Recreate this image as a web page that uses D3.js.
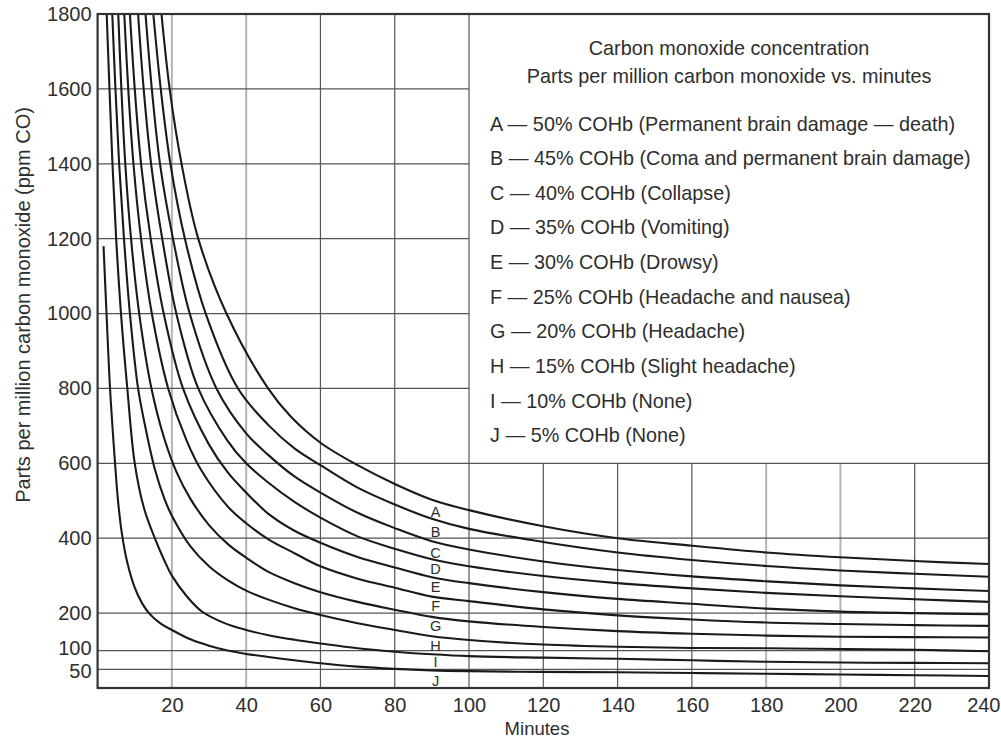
<!DOCTYPE html>
<html>
<head>
<meta charset="utf-8">
<script src="https://cdn.jsdelivr.net/npm/d3@7/dist/d3.min.js"></script>
<style>
  html, body { margin: 0; padding: 0; background: #fff; }
  svg { display: block; }
  text { font-family: "Liberation Sans", Arial, Helvetica, sans-serif; fill: #2e2e2e; }
</style>
</head>
<body>
<script>
// ---------- data ----------
const minuteTicks = [20, 40, 60, 80, 100, 120, 140, 160, 180, 200, 220, 240];
const ppmTicks = [50, 100, 200, 400, 600, 800, 1000, 1200, 1400, 1600, 1800];

const curveIds = ["A", "B", "C", "D", "E", "F", "G", "H", "I", "J"];
const coHbPercent = [50, 45, 40, 35, 30, 25, 20, 15, 10, 5];
const symptoms = [
  "Permanent brain damage \u2014 death",
  "Coma and permanent brain damage",
  "Collapse",
  "Vomiting",
  "Drowsy",
  "Headache and nausea",
  "Headache",
  "Slight headache",
  "None",
  "None"
];
// label positions (ppm) of the curve letters near 91 minutes
const labelMinute = 91;
const labelPpm = [470, 417, 361, 318, 270, 219, 166, 112, 69, 19];

// curves: [minutes, ppm CO]
const curveA = [[17.2,1800],[19.4,1600],[22.6,1400],[27.1,1200],[34.7,1000],[45.9,800],[52,725],[60,655],[70,595],[80,545],[90,503],[100,475],[120,432],[140,400],[160,380],[180,362],[200,349],[220,339],[240,331]];
const curveB = [[15.0,1800],[17.0,1600],[19.6,1400],[23.5,1200],[29.1,1000],[37.8,800],[46,702],[53,640],[60,595],[70,535],[80,490],[90,452],[100,425],[120,390],[140,362],[160,342],[180,326],[200,314],[220,305],[240,297]];
const curveC = [[12.9,1800],[14.6,1600],[16.8,1400],[20.3,1200],[24.8,1000],[32,800],[40,680],[46,622],[53,565],[60,522],[70,468],[80,427],[90,392],[100,370],[120,338],[140,315],[160,298],[180,285],[200,274],[220,266],[240,259]];
const curveD = [[10.9,1800],[12.4,1600],[14.4,1400],[17.4,1200],[21.2,1000],[27.1,800],[35,660],[40,600],[46,548],[53,497],[60,455],[70,405],[80,372],[90,344],[100,325],[120,299],[140,280],[160,266],[180,254],[200,245],[220,237],[240,230]];
const curveE = [[8.7,1800],[10.0,1600],[11.7,1400],[14.3,1200],[17.8,1000],[23,800],[30,650],[35.1,575],[40,522],[46,465],[53,420],[60,388],[70,350],[80,322],[90,296],[100,280],[120,256],[140,238],[160,225],[180,212],[200,204],[220,200],[240,197]];
const curveF = [[7.18,1800],[8.25,1600],[9.65,1400],[11.7,1200],[14.6,1000],[19,800],[24,660],[28,580],[35,485],[40,440],[46,397],[53,360],[60,325],[70,292],[80,268],[90,244],[100,232],[120,210],[140,194],[160,183],[180,175],[200,171],[220,168],[240,166]];
const curveG = [[5.56,1800],[6.4,1600],[7.45,1400],[9.0,1200],[11.2,1000],[14.5,800],[18,665],[21.2,578],[25,505],[30,435],[35,385],[40,348],[46,310],[53,280],[60,256],[70,230],[80,209],[90,190],[100,178],[120,163],[140,152],[160,145],[180,140],[200,137],[220,136],[240,135]];
const curveH = [[3.95,1800],[4.8,1600],[5.8,1400],[7.1,1200],[8.7,1000],[10.9,800],[13,690],[15.4,585],[18,505],[20,460],[25,378],[30,325],[35,288],[40,260],[46,236],[53,213],[60,195],[70,173],[80,155],[90,138],[100,128],[120,116],[140,110],[160,107],[180,106],[200,104],[220,102],[240,98]];
const curveI = [[2.45,1800],[3.2,1600],[4.0,1400],[5.0,1200],[6.3,1000],[8.0,800],[10,600],[12.5,480],[15.4,400],[18,340],[20,300],[24,245],[28,205],[34,174],[40,155],[46,141],[53,129],[60,119],[70,106],[80,97],[90,90],[100,85],[120,81],[140,78],[160,74],[180,70],[200,68],[220,67],[240,66]];
const curveJ = [[1.6,1180],[2.4,1000],[3.35,800],[4.7,600],[5.5,500],[6.5,415],[8,335],[10,268],[12,226],[14,198],[17,172],[20,155],[25,130],[30,113],[35,100],[40,91],[46,83],[53,74],[60,66],[70,57],[80,51],[90,47],[100,45],[120,43],[140,42],[160,40],[180,38],[200,36],[220,34],[240,32]];
const curves = [curveA, curveB, curveC, curveD, curveE, curveF, curveG, curveH, curveI, curveJ];

// ---------- layout ----------
const W = 1001, H = 741;
const plotLeft = 97.6, plotRight = 989, plotTop = 14, plotBottom = 688;
const x = d3.scaleLinear().domain([0, 240]).range([plotLeft, plotRight]);
const y = d3.scaleLinear().domain([0, 1800]).range([plotBottom, plotTop]);
const legendMinute = 100, legendPpm = 600;
const lightGrid = new Set([20, 40, 180, 200]);
const fontMain = 20, fontLegend = 19.8;

const svg = d3.select("body").append("svg").attr("width", W).attr("height", H);
svg.append("rect").attr("width", W).attr("height", H).attr("fill", "#fff");

// ---------- grid ----------
const grid = svg.append("g");
minuteTicks.filter(m => m < 240).forEach(m => {
  grid.append("line")
    .attr("x1", x(m)).attr("x2", x(m))
    .attr("y1", m > legendMinute ? y(legendPpm) : y(1800)).attr("y2", y(0))
    .attr("stroke", lightGrid.has(m) ? "#b4b4b4" : "#555")
    .attr("stroke-width", lightGrid.has(m) ? 2 : 1.2);
});
ppmTicks.filter(v => v < 1800).forEach(v => {
  grid.append("line")
    .attr("y1", y(v)).attr("y2", y(v))
    .attr("x1", x(0)).attr("x2", v > legendPpm ? x(legendMinute) : x(240))
    .attr("stroke", "#555").attr("stroke-width", 1.3);
});

// ---------- curves ----------
svg.append("clipPath").attr("id", "plotclip")
  .append("rect").attr("x", x(0)).attr("y", y(1800))
  .attr("width", x(240) - x(0)).attr("height", y(0) - y(1800));

const line = d3.line()
  .x(d => x(d[0])).y(d => y(d[1]))
  .curve(d3.curveCatmullRom.alpha(0.5));

svg.append("g").attr("clip-path", "url(#plotclip)")
  .selectAll("path").data(curves).join("path")
  .attr("d", line)
  .attr("fill", "none")
  .attr("stroke", "#1a1a1a")
  .attr("stroke-width", 2.1);

// ---------- frame ----------
svg.append("rect")
  .attr("x", x(0)).attr("y", y(1800))
  .attr("width", x(240) - x(0)).attr("height", y(0) - y(1800))
  .attr("fill", "none").attr("stroke", "#333").attr("stroke-width", 2.2);

// ---------- axes ----------
const yAxis = svg.append("g").attr("transform", `translate(${x(0)},0)`)
  .call(d3.axisLeft(y).tickValues(ppmTicks).tickSize(0).tickPadding(6).tickFormat(d3.format("d")));
const xAxis = svg.append("g").attr("transform", `translate(0,${y(0)})`)
  .call(d3.axisBottom(x).tickValues(minuteTicks).tickSize(0).tickPadding(10).tickFormat(d3.format("d")));
[yAxis, xAxis].forEach(a => {
  a.select(".domain").remove();
  a.selectAll("text").attr("font-size", fontMain).attr("fill", "#2e2e2e")
    .attr("font-family", '"Liberation Sans", Arial, sans-serif');
});
// the 100 and 50 labels sit very close together: pull them slightly apart
yAxis.selectAll(".tick").filter(d => d === 100).select("text").attr("dy", "0.2em");
yAxis.selectAll(".tick").filter(d => d === 50).select("text").attr("dy", "0.42em");
xAxis.selectAll(".tick").filter(d => d === 240).select("text")
  .attr("text-anchor", "end").attr("dx", 11);

// axis titles
svg.append("text")
  .attr("transform", `translate(23,305) rotate(-90)`)
  .attr("text-anchor", "middle").attr("dominant-baseline", "central")
  .attr("font-size", fontMain)
  .text("Parts per million carbon monoxide (ppm CO)");
svg.append("text")
  .attr("x", 537).attr("y", 728)
  .attr("text-anchor", "middle").attr("dominant-baseline", "central")
  .attr("font-size", 18.5)
  .text("Minutes");

// ---------- curve letters ----------
svg.append("g").selectAll("text").data(curveIds).join("text")
  .attr("x", x(labelMinute)).attr("y", (d, i) => y(labelPpm[i]))
  .attr("text-anchor", "middle").attr("dominant-baseline", "central")
  .attr("font-size", 14.5).attr("fill", "#444")
  .text(d => d);

// ---------- legend ----------
const legendCx = 729;
svg.append("text").attr("x", legendCx).attr("y", 48)
  .attr("text-anchor", "middle").attr("dominant-baseline", "central")
  .attr("font-size", fontLegend).text("Carbon monoxide concentration");
svg.append("text").attr("x", legendCx).attr("y", 76)
  .attr("text-anchor", "middle").attr("dominant-baseline", "central")
  .attr("font-size", fontLegend).text("Parts per million carbon monoxide vs. minutes");

svg.append("g").selectAll("text").data(curveIds).join("text")
  .attr("x", 490).attr("y", (d, i) => 123.5 + i * 34.65)
  .attr("dominant-baseline", "central")
  .attr("font-size", fontLegend)
  .text((d, i) => `${d} \u2014 ${coHbPercent[i]}% COHb (${symptoms[i]})`);
</script>
</body>
</html>
